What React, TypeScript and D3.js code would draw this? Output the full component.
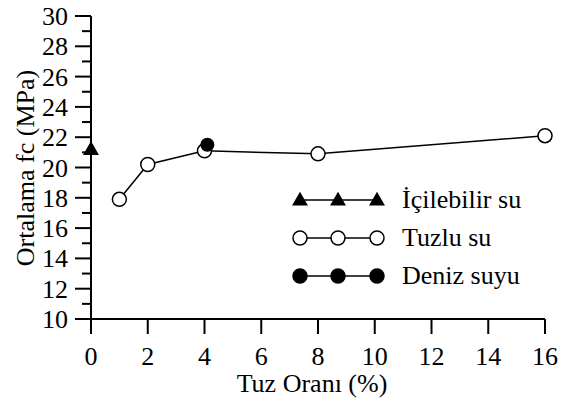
import React from "react";
import * as d3 from "d3";

const icilebilirX = [0];
const icilebilirY = [21.2];
const tuzluX = [1, 2, 4, 8, 16];
const tuzluY = [17.9, 20.2, 21.1, 20.9, 22.1];
const denizX = [4.1];
const denizY = [21.5];

const xTicks = [0, 2, 4, 6, 8, 10, 12, 14, 16];
const yTicks = [10, 12, 14, 16, 18, 20, 22, 24, 26, 28, 30];
const yMinorTicks = [11, 13, 15, 17, 19, 21, 23, 25, 27, 29];

const legendLabels = ["İçilebilir su", "Tuzlu su", "Deniz suyu"];

const zip = (xs: number[], ys: number[]) => xs.map((x, i) => [x, ys[i]] as [number, number]);

const txt = { fontFamily: "Liberation Serif", fontSize: "26px" };

export default function App() {
    const width = 567;
    const height = 405;

    const x = d3.scaleLinear([0, 16], [91, 545]);
    const y = d3.scaleLinear([10, 30], [319, 16]);

    const line = d3.line<[number, number]>().x(d => x(d[0])).y(d => y(d[1]));
    const triangle = d3.symbol().type(d3.symbolTriangle).size(110)() || "";

    const tuzlu = zip(tuzluX, tuzluY);
    const deniz = zip(denizX, denizY);
    const icilebilir = zip(icilebilirX, icilebilirY);

    const x0 = x(0);
    const y0 = y(10);

    // legend placement
    const legendY = [200, 238, 276];
    const legendX = [300, 338, 377];

    return (
        <svg width={width} height={height} style={{ position: "absolute", left: 0, top: 0, background: "white" }}>
            {/* y axis */}
            <line x1={x0} x2={x0} y1={y(30)} y2={y0} stroke="black" strokeWidth={2} />
            {yTicks.map(v => (
                <g key={v}>
                    <line x1={x0 - 16} x2={x0} y1={y(v)} y2={y(v)} stroke="black" strokeWidth={2} />
                    <text x={x0 - 23} y={y(v) + 9} textAnchor="end" style={txt}>{v}</text>
                </g>
            ))}
            {yMinorTicks.map(v => (
                <line key={v} x1={x0 - 9} x2={x0} y1={y(v)} y2={y(v)} stroke="black" strokeWidth={2} />
            ))}

            {/* x axis */}
            <line x1={x0 - 16} x2={x(16)} y1={y0} y2={y0} stroke="black" strokeWidth={2} />
            {xTicks.map(v => (
                <g key={v}>
                    <line x1={x(v)} x2={x(v)} y1={y0} y2={y0 + 15} stroke="black" strokeWidth={2} />
                    <text x={x(v)} y={365} textAnchor="middle" style={txt}>{v}</text>
                </g>
            ))}

            {/* titles */}
            <text x={312} y={392} textAnchor="middle" style={txt}>Tuz Oranı (%)</text>
            <text transform={`translate(34,168) rotate(-90)`} textAnchor="middle" style={txt}>Ortalama fc (MPa)</text>

            {/* Tuzlu su */}
            <path d={line(tuzlu) || ""} fill="none" stroke="black" strokeWidth={1.5} />
            {tuzlu.map((d, i) => (
                <circle key={i} cx={x(d[0])} cy={y(d[1])} r={7} fill="white" stroke="black" strokeWidth={1.5} />
            ))}

            {/* Deniz suyu */}
            {deniz.map((d, i) => (
                <circle key={i} cx={x(d[0])} cy={y(d[1])} r={7} fill="black" />
            ))}

            {/* İçilebilir su */}
            {icilebilir.map((d, i) => (
                <path key={i} d={triangle} transform={`translate(${x(d[0])},${y(d[1]) + 1})`} fill="black" />
            ))}

            {/* legend */}
            {legendLabels.map((label, i) => (
                <g key={label} transform={`translate(0,${legendY[i]})`}>
                    <line x1={legendX[0]} x2={legendX[2]} stroke="black" strokeWidth={1.5} />
                    {legendX.map(lx => i === 0
                        ? <path key={lx} d={triangle} transform={`translate(${lx},1)`} fill="black" />
                        : <circle key={lx} cx={lx} r={7} fill={i === 1 ? "white" : "black"} stroke="black" strokeWidth={1.5} />
                    )}
                    <text x={402} y={8} style={txt}>{label}</text>
                </g>
            ))}
        </svg>
    );
}
